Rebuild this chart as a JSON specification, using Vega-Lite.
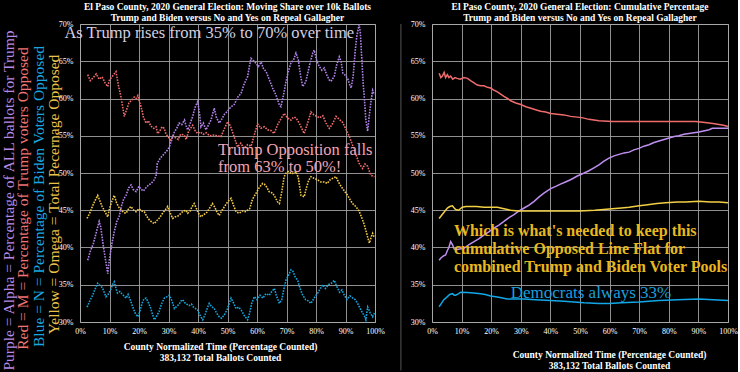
{
"$schema":"https://vega.github.io/schema/vega-lite/v6.json",
"background":"black",
"padding":{"left":0,"right":0,"top":1,"bottom":0},
"config":{
 "view":{"stroke":"#a0a0a0","strokeWidth":1},
 "font":"Liberation Serif",
 "axis":{"labelColor":"white","labelFont":"Liberation Serif","labelFontSize":8,"labelFlush":false,"gridColor":"#a8a8a8","gridOpacity":0.85,"domain":false,"ticks":false,"labelPadding":7,"titleColor":"white","titleFont":"Liberation Serif"},
 "title":{"color":"white","font":"Liberation Serif","fontSize":9.5,"fontWeight":"bold","lineHeight":11,"offset":-2},
 "concat":{"spacing":14}
},
"datasets":{
"moving":[
{"s":"Red","t":0.026,"v":0.632},{"s":"Red","t":0.035,"v":0.624},{"s":"Red","t":0.045,"v":0.628},{"s":"Red","t":0.055,"v":0.633},{"s":"Red","t":0.065,"v":0.626},{"s":"Red","t":0.075,"v":0.629},{"s":"Red","t":0.085,"v":0.621},{"s":"Red","t":0.094,"v":0.616},{"s":"Red","t":0.1,"v":0.625},{"s":"Red","t":0.11,"v":0.63},{"s":"Red","t":0.122,"v":0.636},{"s":"Red","t":0.13,"v":0.618},{"s":"Red","t":0.139,"v":0.602},{"s":"Red","t":0.145,"v":0.588},{"s":"Red","t":0.15,"v":0.576},{"s":"Red","t":0.158,"v":0.585},{"s":"Red","t":0.166,"v":0.594},{"s":"Red","t":0.175,"v":0.598},{"s":"Red","t":0.184,"v":0.602},{"s":"Red","t":0.19,"v":0.6},{"s":"Red","t":0.196,"v":0.604},{"s":"Red","t":0.202,"v":0.595},{"s":"Red","t":0.207,"v":0.589},{"s":"Red","t":0.215,"v":0.575},{"s":"Red","t":0.224,"v":0.567},{"s":"Red","t":0.232,"v":0.57},{"s":"Red","t":0.24,"v":0.563},{"s":"Red","t":0.25,"v":0.56},{"s":"Red","t":0.258,"v":0.562},{"s":"Red","t":0.263,"v":0.553},{"s":"Red","t":0.27,"v":0.556},{"s":"Red","t":0.278,"v":0.562},{"s":"Red","t":0.285,"v":0.56},{"s":"Red","t":0.292,"v":0.552},{"s":"Red","t":0.3,"v":0.548},{"s":"Red","t":0.308,"v":0.544},{"s":"Red","t":0.316,"v":0.55},{"s":"Red","t":0.325,"v":0.547},{"s":"Red","t":0.333,"v":0.545},{"s":"Red","t":0.341,"v":0.552},{"s":"Red","t":0.353,"v":0.551},{"s":"Red","t":0.36,"v":0.545},{"s":"Red","t":0.368,"v":0.556},{"s":"Red","t":0.375,"v":0.56},{"s":"Red","t":0.382,"v":0.564},{"s":"Red","t":0.39,"v":0.557},{"s":"Red","t":0.399,"v":0.553},{"s":"Red","t":0.408,"v":0.555},{"s":"Red","t":0.418,"v":0.552},{"s":"Red","t":0.428,"v":0.554},{"s":"Red","t":0.44,"v":0.55},{"s":"Red","t":0.455,"v":0.551},{"s":"Red","t":0.465,"v":0.55},{"s":"Red","t":0.478,"v":0.549},{"s":"Red","t":0.49,"v":0.56},{"s":"Red","t":0.501,"v":0.569},{"s":"Red","t":0.51,"v":0.563},{"s":"Red","t":0.523,"v":0.548},{"s":"Red","t":0.534,"v":0.535},{"s":"Red","t":0.545,"v":0.54},{"s":"Red","t":0.556,"v":0.533},{"s":"Red","t":0.568,"v":0.538},{"s":"Red","t":0.58,"v":0.536},{"s":"Red","t":0.59,"v":0.55},{"s":"Red","t":0.602,"v":0.566},{"s":"Red","t":0.613,"v":0.56},{"s":"Red","t":0.625,"v":0.562},{"s":"Red","t":0.636,"v":0.558},{"s":"Red","t":0.647,"v":0.557},{"s":"Red","t":0.658,"v":0.553},{"s":"Red","t":0.67,"v":0.565},{"s":"Red","t":0.68,"v":0.572},{"s":"Red","t":0.692,"v":0.58},{"s":"Red","t":0.703,"v":0.574},{"s":"Red","t":0.715,"v":0.571},{"s":"Red","t":0.724,"v":0.575},{"s":"Red","t":0.732,"v":0.574},{"s":"Red","t":0.743,"v":0.567},{"s":"Red","t":0.76,"v":0.553},{"s":"Red","t":0.77,"v":0.565},{"s":"Red","t":0.783,"v":0.582},{"s":"Red","t":0.793,"v":0.578},{"s":"Red","t":0.803,"v":0.576},{"s":"Red","t":0.812,"v":0.574},{"s":"Red","t":0.823,"v":0.577},{"s":"Red","t":0.834,"v":0.567},{"s":"Red","t":0.845,"v":0.56},{"s":"Red","t":0.856,"v":0.566},{"s":"Red","t":0.868,"v":0.576},{"s":"Red","t":0.879,"v":0.572},{"s":"Red","t":0.89,"v":0.568},{"s":"Red","t":0.9,"v":0.56},{"s":"Red","t":0.913,"v":0.549},{"s":"Red","t":0.93,"v":0.531},{"s":"Red","t":0.946,"v":0.513},{"s":"Red","t":0.958,"v":0.506},{"s":"Red","t":0.966,"v":0.512},{"s":"Red","t":0.975,"v":0.509},{"s":"Red","t":0.986,"v":0.497},{"s":"Red","t":0.998,"v":0.495},
{"s":"Purple","t":0.026,"v":0.383},{"s":"Purple","t":0.035,"v":0.395},{"s":"Purple","t":0.045,"v":0.405},{"s":"Purple","t":0.055,"v":0.42},{"s":"Purple","t":0.065,"v":0.435},{"s":"Purple","t":0.07,"v":0.428},{"s":"Purple","t":0.078,"v":0.405},{"s":"Purple","t":0.086,"v":0.385},{"s":"Purple","t":0.094,"v":0.365},{"s":"Purple","t":0.1,"v":0.385},{"s":"Purple","t":0.108,"v":0.405},{"s":"Purple","t":0.116,"v":0.421},{"s":"Purple","t":0.125,"v":0.435},{"s":"Purple","t":0.133,"v":0.442},{"s":"Purple","t":0.14,"v":0.455},{"s":"Purple","t":0.148,"v":0.465},{"s":"Purple","t":0.156,"v":0.47},{"s":"Purple","t":0.165,"v":0.48},{"s":"Purple","t":0.173,"v":0.484},{"s":"Purple","t":0.18,"v":0.478},{"s":"Purple","t":0.19,"v":0.475},{"s":"Purple","t":0.2,"v":0.482},{"s":"Purple","t":0.207,"v":0.478},{"s":"Purple","t":0.215,"v":0.476},{"s":"Purple","t":0.225,"v":0.481},{"s":"Purple","t":0.233,"v":0.484},{"s":"Purple","t":0.241,"v":0.486},{"s":"Purple","t":0.25,"v":0.49},{"s":"Purple","t":0.258,"v":0.496},{"s":"Purple","t":0.262,"v":0.513},{"s":"Purple","t":0.272,"v":0.52},{"s":"Purple","t":0.286,"v":0.526},{"s":"Purple","t":0.295,"v":0.53},{"s":"Purple","t":0.303,"v":0.535},{"s":"Purple","t":0.312,"v":0.546},{"s":"Purple","t":0.32,"v":0.555},{"s":"Purple","t":0.328,"v":0.56},{"s":"Purple","t":0.336,"v":0.567},{"s":"Purple","t":0.345,"v":0.565},{"s":"Purple","t":0.354,"v":0.571},{"s":"Purple","t":0.36,"v":0.563},{"s":"Purple","t":0.365,"v":0.558},{"s":"Purple","t":0.373,"v":0.566},{"s":"Purple","t":0.382,"v":0.576},{"s":"Purple","t":0.39,"v":0.588},{"s":"Purple","t":0.399,"v":0.596},{"s":"Purple","t":0.405,"v":0.58},{"s":"Purple","t":0.41,"v":0.562},{"s":"Purple","t":0.418,"v":0.567},{"s":"Purple","t":0.427,"v":0.558},{"s":"Purple","t":0.436,"v":0.565},{"s":"Purple","t":0.444,"v":0.571},{"s":"Purple","t":0.45,"v":0.58},{"s":"Purple","t":0.455,"v":0.587},{"s":"Purple","t":0.462,"v":0.575},{"s":"Purple","t":0.472,"v":0.567},{"s":"Purple","t":0.48,"v":0.572},{"s":"Purple","t":0.49,"v":0.579},{"s":"Purple","t":0.5,"v":0.583},{"s":"Purple","t":0.51,"v":0.588},{"s":"Purple","t":0.523,"v":0.592},{"s":"Purple","t":0.535,"v":0.602},{"s":"Purple","t":0.546,"v":0.607},{"s":"Purple","t":0.557,"v":0.62},{"s":"Purple","t":0.568,"v":0.629},{"s":"Purple","t":0.575,"v":0.645},{"s":"Purple","t":0.58,"v":0.654},{"s":"Purple","t":0.59,"v":0.65},{"s":"Purple","t":0.597,"v":0.647},{"s":"Purple","t":0.605,"v":0.643},{"s":"Purple","t":0.614,"v":0.649},{"s":"Purple","t":0.622,"v":0.64},{"s":"Purple","t":0.631,"v":0.636},{"s":"Purple","t":0.642,"v":0.625},{"s":"Purple","t":0.653,"v":0.614},{"s":"Purple","t":0.664,"v":0.605},{"s":"Purple","t":0.676,"v":0.591},{"s":"Purple","t":0.681,"v":0.589},{"s":"Purple","t":0.69,"v":0.605},{"s":"Purple","t":0.698,"v":0.622},{"s":"Purple","t":0.706,"v":0.636},{"s":"Purple","t":0.715,"v":0.648},{"s":"Purple","t":0.724,"v":0.652},{"s":"Purple","t":0.732,"v":0.661},{"s":"Purple","t":0.74,"v":0.652},{"s":"Purple","t":0.748,"v":0.63},{"s":"Purple","t":0.755,"v":0.616},{"s":"Purple","t":0.765,"v":0.622},{"s":"Purple","t":0.772,"v":0.634},{"s":"Purple","t":0.78,"v":0.648},{"s":"Purple","t":0.789,"v":0.661},{"s":"Purple","t":0.794,"v":0.665},{"s":"Purple","t":0.803,"v":0.65},{"s":"Purple","t":0.811,"v":0.643},{"s":"Purple","t":0.82,"v":0.638},{"s":"Purple","t":0.828,"v":0.641},{"s":"Purple","t":0.836,"v":0.632},{"s":"Purple","t":0.845,"v":0.625},{"s":"Purple","t":0.851,"v":0.623},{"s":"Purple","t":0.862,"v":0.63},{"s":"Purple","t":0.87,"v":0.645},{"s":"Purple","t":0.879,"v":0.656},{"s":"Purple","t":0.885,"v":0.65},{"s":"Purple","t":0.891,"v":0.634},{"s":"Purple","t":0.9,"v":0.631},{"s":"Purple","t":0.908,"v":0.626},{"s":"Purple","t":0.913,"v":0.62},{"s":"Purple","t":0.919,"v":0.614},{"s":"Purple","t":0.926,"v":0.63},{"s":"Purple","t":0.932,"v":0.66},{"s":"Purple","t":0.938,"v":0.683},{"s":"Purple","t":0.946,"v":0.699},{"s":"Purple","t":0.95,"v":0.69},{"s":"Purple","t":0.955,"v":0.655},{"s":"Purple","t":0.96,"v":0.62},{"s":"Purple","t":0.964,"v":0.6},{"s":"Purple","t":0.969,"v":0.571},{"s":"Purple","t":0.975,"v":0.556},{"s":"Purple","t":0.98,"v":0.575},{"s":"Purple","t":0.986,"v":0.595},{"s":"Purple","t":0.992,"v":0.611},{"s":"Purple","t":0.998,"v":0.605},
{"s":"Yellow","t":0.024,"v":0.439},{"s":"Yellow","t":0.035,"v":0.448},{"s":"Yellow","t":0.045,"v":0.458},{"s":"Yellow","t":0.055,"v":0.466},{"s":"Yellow","t":0.06,"v":0.47},{"s":"Yellow","t":0.068,"v":0.462},{"s":"Yellow","t":0.075,"v":0.455},{"s":"Yellow","t":0.082,"v":0.45},{"s":"Yellow","t":0.094,"v":0.441},{"s":"Yellow","t":0.1,"v":0.452},{"s":"Yellow","t":0.108,"v":0.462},{"s":"Yellow","t":0.116,"v":0.47},{"s":"Yellow","t":0.124,"v":0.46},{"s":"Yellow","t":0.133,"v":0.453},{"s":"Yellow","t":0.14,"v":0.45},{"s":"Yellow","t":0.148,"v":0.447},{"s":"Yellow","t":0.156,"v":0.446},{"s":"Yellow","t":0.165,"v":0.452},{"s":"Yellow","t":0.173,"v":0.455},{"s":"Yellow","t":0.182,"v":0.45},{"s":"Yellow","t":0.19,"v":0.448},{"s":"Yellow","t":0.2,"v":0.452},{"s":"Yellow","t":0.21,"v":0.449},{"s":"Yellow","t":0.218,"v":0.448},{"s":"Yellow","t":0.226,"v":0.442},{"s":"Yellow","t":0.235,"v":0.437},{"s":"Yellow","t":0.244,"v":0.434},{"s":"Yellow","t":0.252,"v":0.432},{"s":"Yellow","t":0.26,"v":0.436},{"s":"Yellow","t":0.27,"v":0.44},{"s":"Yellow","t":0.28,"v":0.446},{"s":"Yellow","t":0.29,"v":0.451},{"s":"Yellow","t":0.297,"v":0.455},{"s":"Yellow","t":0.305,"v":0.447},{"s":"Yellow","t":0.314,"v":0.439},{"s":"Yellow","t":0.322,"v":0.441},{"s":"Yellow","t":0.331,"v":0.442},{"s":"Yellow","t":0.34,"v":0.445},{"s":"Yellow","t":0.35,"v":0.449},{"s":"Yellow","t":0.359,"v":0.45},{"s":"Yellow","t":0.365,"v":0.446},{"s":"Yellow","t":0.373,"v":0.449},{"s":"Yellow","t":0.38,"v":0.455},{"s":"Yellow","t":0.387,"v":0.459},{"s":"Yellow","t":0.395,"v":0.452},{"s":"Yellow","t":0.403,"v":0.445},{"s":"Yellow","t":0.41,"v":0.441},{"s":"Yellow","t":0.418,"v":0.444},{"s":"Yellow","t":0.428,"v":0.446},{"s":"Yellow","t":0.438,"v":0.452},{"s":"Yellow","t":0.449,"v":0.459},{"s":"Yellow","t":0.457,"v":0.454},{"s":"Yellow","t":0.465,"v":0.447},{"s":"Yellow","t":0.472,"v":0.443},{"s":"Yellow","t":0.48,"v":0.449},{"s":"Yellow","t":0.49,"v":0.455},{"s":"Yellow","t":0.5,"v":0.461},{"s":"Yellow","t":0.512,"v":0.466},{"s":"Yellow","t":0.52,"v":0.457},{"s":"Yellow","t":0.529,"v":0.448},{"s":"Yellow","t":0.54,"v":0.446},{"s":"Yellow","t":0.55,"v":0.449},{"s":"Yellow","t":0.56,"v":0.448},{"s":"Yellow","t":0.568,"v":0.45},{"s":"Yellow","t":0.575,"v":0.452},{"s":"Yellow","t":0.585,"v":0.465},{"s":"Yellow","t":0.597,"v":0.473},{"s":"Yellow","t":0.607,"v":0.48},{"s":"Yellow","t":0.619,"v":0.486},{"s":"Yellow","t":0.625,"v":0.485},{"s":"Yellow","t":0.633,"v":0.481},{"s":"Yellow","t":0.641,"v":0.475},{"s":"Yellow","t":0.653,"v":0.473},{"s":"Yellow","t":0.661,"v":0.468},{"s":"Yellow","t":0.67,"v":0.461},{"s":"Yellow","t":0.676,"v":0.459},{"s":"Yellow","t":0.684,"v":0.475},{"s":"Yellow","t":0.692,"v":0.495},{"s":"Yellow","t":0.7,"v":0.501},{"s":"Yellow","t":0.708,"v":0.502},{"s":"Yellow","t":0.716,"v":0.499},{"s":"Yellow","t":0.725,"v":0.5},{"s":"Yellow","t":0.732,"v":0.502},{"s":"Yellow","t":0.74,"v":0.494},{"s":"Yellow","t":0.749,"v":0.47},{"s":"Yellow","t":0.76,"v":0.468},{"s":"Yellow","t":0.766,"v":0.478},{"s":"Yellow","t":0.775,"v":0.49},{"s":"Yellow","t":0.783,"v":0.495},{"s":"Yellow","t":0.793,"v":0.493},{"s":"Yellow","t":0.805,"v":0.491},{"s":"Yellow","t":0.816,"v":0.488},{"s":"Yellow","t":0.828,"v":0.488},{"s":"Yellow","t":0.838,"v":0.486},{"s":"Yellow","t":0.848,"v":0.491},{"s":"Yellow","t":0.857,"v":0.493},{"s":"Yellow","t":0.868,"v":0.495},{"s":"Yellow","t":0.876,"v":0.488},{"s":"Yellow","t":0.885,"v":0.482},{"s":"Yellow","t":0.896,"v":0.476},{"s":"Yellow","t":0.907,"v":0.47},{"s":"Yellow","t":0.916,"v":0.464},{"s":"Yellow","t":0.924,"v":0.459},{"s":"Yellow","t":0.935,"v":0.455},{"s":"Yellow","t":0.946,"v":0.449},{"s":"Yellow","t":0.958,"v":0.437},{"s":"Yellow","t":0.964,"v":0.43},{"s":"Yellow","t":0.969,"v":0.423},{"s":"Yellow","t":0.975,"v":0.414},{"s":"Yellow","t":0.981,"v":0.406},{"s":"Yellow","t":0.988,"v":0.415},{"s":"Yellow","t":0.992,"v":0.419},{"s":"Yellow","t":0.998,"v":0.413},
{"s":"Blue","t":0.024,"v":0.32},{"s":"Blue","t":0.033,"v":0.328},{"s":"Blue","t":0.043,"v":0.336},{"s":"Blue","t":0.052,"v":0.345},{"s":"Blue","t":0.06,"v":0.352},{"s":"Blue","t":0.068,"v":0.349},{"s":"Blue","t":0.076,"v":0.346},{"s":"Blue","t":0.082,"v":0.34},{"s":"Blue","t":0.088,"v":0.334},{"s":"Blue","t":0.095,"v":0.337},{"s":"Blue","t":0.103,"v":0.342},{"s":"Blue","t":0.11,"v":0.35},{"s":"Blue","t":0.116,"v":0.354},{"s":"Blue","t":0.122,"v":0.345},{"s":"Blue","t":0.127,"v":0.339},{"s":"Blue","t":0.135,"v":0.341},{"s":"Blue","t":0.142,"v":0.338},{"s":"Blue","t":0.149,"v":0.335},{"s":"Blue","t":0.156,"v":0.332},{"s":"Blue","t":0.163,"v":0.337},{"s":"Blue","t":0.17,"v":0.33},{"s":"Blue","t":0.179,"v":0.32},{"s":"Blue","t":0.187,"v":0.312},{"s":"Blue","t":0.196,"v":0.307},{"s":"Blue","t":0.203,"v":0.314},{"s":"Blue","t":0.21,"v":0.325},{"s":"Blue","t":0.217,"v":0.331},{"s":"Blue","t":0.224,"v":0.332},{"s":"Blue","t":0.232,"v":0.326},{"s":"Blue","t":0.24,"v":0.318},{"s":"Blue","t":0.246,"v":0.31},{"s":"Blue","t":0.252,"v":0.303},{"s":"Blue","t":0.26,"v":0.308},{"s":"Blue","t":0.268,"v":0.314},{"s":"Blue","t":0.276,"v":0.324},{"s":"Blue","t":0.286,"v":0.332},{"s":"Blue","t":0.295,"v":0.334},{"s":"Blue","t":0.303,"v":0.336},{"s":"Blue","t":0.312,"v":0.328},{"s":"Blue","t":0.32,"v":0.318},{"s":"Blue","t":0.328,"v":0.321},{"s":"Blue","t":0.336,"v":0.324},{"s":"Blue","t":0.342,"v":0.328},{"s":"Blue","t":0.348,"v":0.33},{"s":"Blue","t":0.355,"v":0.326},{"s":"Blue","t":0.362,"v":0.324},{"s":"Blue","t":0.37,"v":0.322},{"s":"Blue","t":0.378,"v":0.324},{"s":"Blue","t":0.385,"v":0.32},{"s":"Blue","t":0.392,"v":0.318},{"s":"Blue","t":0.399,"v":0.316},{"s":"Blue","t":0.408,"v":0.308},{"s":"Blue","t":0.416,"v":0.303},{"s":"Blue","t":0.424,"v":0.31},{"s":"Blue","t":0.431,"v":0.318},{"s":"Blue","t":0.438,"v":0.325},{"s":"Blue","t":0.446,"v":0.321},{"s":"Blue","t":0.455,"v":0.318},{"s":"Blue","t":0.463,"v":0.312},{"s":"Blue","t":0.472,"v":0.307},{"s":"Blue","t":0.48,"v":0.305},{"s":"Blue","t":0.49,"v":0.31},{"s":"Blue","t":0.5,"v":0.318},{"s":"Blue","t":0.512,"v":0.332},{"s":"Blue","t":0.52,"v":0.326},{"s":"Blue","t":0.529,"v":0.318},{"s":"Blue","t":0.538,"v":0.32},{"s":"Blue","t":0.548,"v":0.315},{"s":"Blue","t":0.558,"v":0.308},{"s":"Blue","t":0.568,"v":0.303},{"s":"Blue","t":0.575,"v":0.312},{"s":"Blue","t":0.582,"v":0.325},{"s":"Blue","t":0.591,"v":0.334},{"s":"Blue","t":0.6,"v":0.33},{"s":"Blue","t":0.61,"v":0.336},{"s":"Blue","t":0.62,"v":0.332},{"s":"Blue","t":0.63,"v":0.338},{"s":"Blue","t":0.642,"v":0.336},{"s":"Blue","t":0.65,"v":0.341},{"s":"Blue","t":0.659,"v":0.345},{"s":"Blue","t":0.666,"v":0.335},{"s":"Blue","t":0.676,"v":0.325},{"s":"Blue","t":0.684,"v":0.33},{"s":"Blue","t":0.69,"v":0.342},{"s":"Blue","t":0.698,"v":0.356},{"s":"Blue","t":0.706,"v":0.362},{"s":"Blue","t":0.715,"v":0.37},{"s":"Blue","t":0.722,"v":0.368},{"s":"Blue","t":0.73,"v":0.36},{"s":"Blue","t":0.738,"v":0.356},{"s":"Blue","t":0.746,"v":0.345},{"s":"Blue","t":0.755,"v":0.336},{"s":"Blue","t":0.765,"v":0.33},{"s":"Blue","t":0.775,"v":0.328},{"s":"Blue","t":0.783,"v":0.325},{"s":"Blue","t":0.795,"v":0.333},{"s":"Blue","t":0.806,"v":0.339},{"s":"Blue","t":0.815,"v":0.345},{"s":"Blue","t":0.823,"v":0.35},{"s":"Blue","t":0.832,"v":0.345},{"s":"Blue","t":0.842,"v":0.35},{"s":"Blue","t":0.852,"v":0.352},{"s":"Blue","t":0.862,"v":0.356},{"s":"Blue","t":0.87,"v":0.348},{"s":"Blue","t":0.88,"v":0.34},{"s":"Blue","t":0.888,"v":0.343},{"s":"Blue","t":0.896,"v":0.336},{"s":"Blue","t":0.905,"v":0.33},{"s":"Blue","t":0.915,"v":0.335},{"s":"Blue","t":0.925,"v":0.332},{"s":"Blue","t":0.933,"v":0.33},{"s":"Blue","t":0.941,"v":0.325},{"s":"Blue","t":0.95,"v":0.318},{"s":"Blue","t":0.958,"v":0.312},{"s":"Blue","t":0.964,"v":0.308},{"s":"Blue","t":0.969,"v":0.303},{"s":"Blue","t":0.975,"v":0.32},{"s":"Blue","t":0.984,"v":0.312},{"s":"Blue","t":0.992,"v":0.307},{"s":"Blue","t":0.998,"v":0.312}
],
"cumul":[
{"s":"Red","t":0.024,"v":0.634},{"s":"Red","t":0.03,"v":0.628},{"s":"Red","t":0.035,"v":0.63},{"s":"Red","t":0.041,"v":0.635},{"s":"Red","t":0.046,"v":0.628},{"s":"Red","t":0.052,"v":0.632},{"s":"Red","t":0.057,"v":0.628},{"s":"Red","t":0.063,"v":0.63},{"s":"Red","t":0.07,"v":0.626},{"s":"Red","t":0.078,"v":0.628},{"s":"Red","t":0.085,"v":0.627},{"s":"Red","t":0.095,"v":0.626},{"s":"Red","t":0.108,"v":0.628},{"s":"Red","t":0.12,"v":0.627},{"s":"Red","t":0.13,"v":0.624},{"s":"Red","t":0.142,"v":0.621},{"s":"Red","t":0.153,"v":0.618},{"s":"Red","t":0.165,"v":0.617},{"s":"Red","t":0.176,"v":0.617},{"s":"Red","t":0.187,"v":0.615},{"s":"Red","t":0.198,"v":0.614},{"s":"Red","t":0.21,"v":0.611},{"s":"Red","t":0.221,"v":0.609},{"s":"Red","t":0.232,"v":0.606},{"s":"Red","t":0.243,"v":0.603},{"s":"Red","t":0.255,"v":0.6},{"s":"Red","t":0.266,"v":0.597},{"s":"Red","t":0.283,"v":0.594},{"s":"Red","t":0.3,"v":0.592},{"s":"Red","t":0.317,"v":0.589},{"s":"Red","t":0.334,"v":0.587},{"s":"Red","t":0.35,"v":0.585},{"s":"Red","t":0.367,"v":0.583},{"s":"Red","t":0.384,"v":0.582},{"s":"Red","t":0.401,"v":0.58},{"s":"Red","t":0.423,"v":0.579},{"s":"Red","t":0.446,"v":0.578},{"s":"Red","t":0.468,"v":0.576},{"s":"Red","t":0.491,"v":0.575},{"s":"Red","t":0.51,"v":0.574},{"s":"Red","t":0.53,"v":0.572},{"s":"Red","t":0.564,"v":0.57},{"s":"Red","t":0.609,"v":0.569},{"s":"Red","t":0.65,"v":0.569},{"s":"Red","t":0.699,"v":0.569},{"s":"Red","t":0.75,"v":0.569},{"s":"Red","t":0.789,"v":0.569},{"s":"Red","t":0.84,"v":0.569},{"s":"Red","t":0.891,"v":0.569},{"s":"Red","t":0.915,"v":0.568},{"s":"Red","t":0.936,"v":0.567},{"s":"Red","t":0.955,"v":0.566},{"s":"Red","t":0.97,"v":0.565},{"s":"Red","t":0.985,"v":0.564},{"s":"Red","t":1.0,"v":0.5625},
{"s":"Purple","t":0.024,"v":0.383},{"s":"Purple","t":0.03,"v":0.386},{"s":"Purple","t":0.04,"v":0.389},{"s":"Purple","t":0.046,"v":0.39},{"s":"Purple","t":0.052,"v":0.396},{"s":"Purple","t":0.057,"v":0.4},{"s":"Purple","t":0.063,"v":0.408},{"s":"Purple","t":0.069,"v":0.404},{"s":"Purple","t":0.075,"v":0.398},{"s":"Purple","t":0.08,"v":0.397},{"s":"Purple","t":0.094,"v":0.398},{"s":"Purple","t":0.108,"v":0.399},{"s":"Purple","t":0.125,"v":0.404},{"s":"Purple","t":0.142,"v":0.408},{"s":"Purple","t":0.159,"v":0.412},{"s":"Purple","t":0.176,"v":0.417},{"s":"Purple","t":0.192,"v":0.421},{"s":"Purple","t":0.209,"v":0.426},{"s":"Purple","t":0.226,"v":0.43},{"s":"Purple","t":0.243,"v":0.435},{"s":"Purple","t":0.26,"v":0.44},{"s":"Purple","t":0.277,"v":0.444},{"s":"Purple","t":0.294,"v":0.449},{"s":"Purple","t":0.311,"v":0.453},{"s":"Purple","t":0.328,"v":0.457},{"s":"Purple","t":0.345,"v":0.462},{"s":"Purple","t":0.362,"v":0.468},{"s":"Purple","t":0.378,"v":0.473},{"s":"Purple","t":0.401,"v":0.479},{"s":"Purple","t":0.418,"v":0.482},{"s":"Purple","t":0.434,"v":0.485},{"s":"Purple","t":0.451,"v":0.488},{"s":"Purple","t":0.468,"v":0.491},{"s":"Purple","t":0.491,"v":0.496},{"s":"Purple","t":0.514,"v":0.5},{"s":"Purple","t":0.53,"v":0.503},{"s":"Purple","t":0.547,"v":0.507},{"s":"Purple","t":0.564,"v":0.511},{"s":"Purple","t":0.581,"v":0.516},{"s":"Purple","t":0.598,"v":0.52},{"s":"Purple","t":0.615,"v":0.523},{"s":"Purple","t":0.632,"v":0.525},{"s":"Purple","t":0.649,"v":0.527},{"s":"Purple","t":0.666,"v":0.528},{"s":"Purple","t":0.682,"v":0.531},{"s":"Purple","t":0.699,"v":0.533},{"s":"Purple","t":0.716,"v":0.536},{"s":"Purple","t":0.733,"v":0.538},{"s":"Purple","t":0.75,"v":0.541},{"s":"Purple","t":0.767,"v":0.543},{"s":"Purple","t":0.784,"v":0.545},{"s":"Purple","t":0.801,"v":0.547},{"s":"Purple","t":0.818,"v":0.549},{"s":"Purple","t":0.834,"v":0.55},{"s":"Purple","t":0.851,"v":0.552},{"s":"Purple","t":0.868,"v":0.553},{"s":"Purple","t":0.885,"v":0.554},{"s":"Purple","t":0.902,"v":0.555},{"s":"Purple","t":0.925,"v":0.557},{"s":"Purple","t":0.936,"v":0.558},{"s":"Purple","t":0.947,"v":0.56},{"s":"Purple","t":0.964,"v":0.56},{"s":"Purple","t":0.981,"v":0.56},{"s":"Purple","t":1.0,"v":0.56},
{"s":"Yellow","t":0.024,"v":0.439},{"s":"Yellow","t":0.03,"v":0.442},{"s":"Yellow","t":0.04,"v":0.447},{"s":"Yellow","t":0.052,"v":0.453},{"s":"Yellow","t":0.06,"v":0.455},{"s":"Yellow","t":0.069,"v":0.456},{"s":"Yellow","t":0.075,"v":0.453},{"s":"Yellow","t":0.08,"v":0.451},{"s":"Yellow","t":0.09,"v":0.45},{"s":"Yellow","t":0.102,"v":0.454},{"s":"Yellow","t":0.115,"v":0.455},{"s":"Yellow","t":0.131,"v":0.455},{"s":"Yellow","t":0.15,"v":0.455},{"s":"Yellow","t":0.176,"v":0.454},{"s":"Yellow","t":0.2,"v":0.454},{"s":"Yellow","t":0.221,"v":0.454},{"s":"Yellow","t":0.243,"v":0.452},{"s":"Yellow","t":0.266,"v":0.45},{"s":"Yellow","t":0.29,"v":0.449},{"s":"Yellow","t":0.311,"v":0.449},{"s":"Yellow","t":0.35,"v":0.449},{"s":"Yellow","t":0.4,"v":0.449},{"s":"Yellow","t":0.45,"v":0.449},{"s":"Yellow","t":0.497,"v":0.449},{"s":"Yellow","t":0.55,"v":0.45},{"s":"Yellow","t":0.609,"v":0.452},{"s":"Yellow","t":0.64,"v":0.453},{"s":"Yellow","t":0.666,"v":0.454},{"s":"Yellow","t":0.7,"v":0.456},{"s":"Yellow","t":0.722,"v":0.457},{"s":"Yellow","t":0.76,"v":0.459},{"s":"Yellow","t":0.789,"v":0.46},{"s":"Yellow","t":0.83,"v":0.461},{"s":"Yellow","t":0.857,"v":0.461},{"s":"Yellow","t":0.902,"v":0.462},{"s":"Yellow","t":0.94,"v":0.461},{"s":"Yellow","t":0.97,"v":0.461},{"s":"Yellow","t":1.0,"v":0.46},
{"s":"Blue","t":0.024,"v":0.3205},{"s":"Blue","t":0.03,"v":0.324},{"s":"Blue","t":0.04,"v":0.33},{"s":"Blue","t":0.052,"v":0.334},{"s":"Blue","t":0.06,"v":0.337},{"s":"Blue","t":0.069,"v":0.338},{"s":"Blue","t":0.075,"v":0.336},{"s":"Blue","t":0.08,"v":0.336},{"s":"Blue","t":0.09,"v":0.338},{"s":"Blue","t":0.097,"v":0.34},{"s":"Blue","t":0.12,"v":0.3395},{"s":"Blue","t":0.14,"v":0.339},{"s":"Blue","t":0.164,"v":0.338},{"s":"Blue","t":0.18,"v":0.337},{"s":"Blue","t":0.198,"v":0.335},{"s":"Blue","t":0.215,"v":0.334},{"s":"Blue","t":0.23,"v":0.333},{"s":"Blue","t":0.254,"v":0.331},{"s":"Blue","t":0.28,"v":0.331},{"s":"Blue","t":0.311,"v":0.331},{"s":"Blue","t":0.35,"v":0.33},{"s":"Blue","t":0.4,"v":0.329},{"s":"Blue","t":0.446,"v":0.328},{"s":"Blue","t":0.48,"v":0.327},{"s":"Blue","t":0.514,"v":0.326},{"s":"Blue","t":0.564,"v":0.325},{"s":"Blue","t":0.6,"v":0.325},{"s":"Blue","t":0.64,"v":0.326},{"s":"Blue","t":0.699,"v":0.327},{"s":"Blue","t":0.767,"v":0.329},{"s":"Blue","t":0.83,"v":0.33},{"s":"Blue","t":0.902,"v":0.331},{"s":"Blue","t":0.95,"v":0.33},{"s":"Blue","t":1.0,"v":0.329}
]
},
"hconcat":[
{
 "width":295,"height":298,
 "title":{"text":["El Paso County, 2020 General Election: Moving Share over 10k Ballots","Trump and Biden versus No and Yes on Repeal Gallagher"]},
 "data":{"name":"moving"},
 "resolve":{"axis":{"x":"independent","y":"independent"}},
 "layer":[
  {"transform":[{"filter":"datum.s === 'Yellow'"}],
   "mark":{"type":"line","color":"#f2c944","strokeWidth":1.6,"strokeDash":[1.6,1.2]},
   "encoding":{
    "x":{"field":"t","type":"quantitative","scale":{"domain":[0,1],"nice":false},"axis":{"values":[0,0.1,0.2,0.3,0.4,0.5,0.6,0.7,0.8,0.9,1],"format":".0%","grid":true,"labelPadding":5,"title":["County Normalized Time (Percentage Counted)","383,132 Total Ballots Counted"],"titleFontSize":9.5,"titleFontWeight":"bold","titleLineHeight":11,"titlePadding":6,"titleX":140}},
    "y":{"field":"v","type":"quantitative","scale":{"domain":[0.3,0.7],"nice":false,"zero":false},"axis":{"orient":"left","values":[0.3,0.35,0.4,0.45,0.5,0.55,0.6,0.65,0.7],"format":".0%","grid":true,"title":"Yellow = Omega = Total Pecernage Opposed","titleColor":"#eac24a","titleFontSize":15.5,"titleFontWeight":"normal","titleX":-19,"titleY":170}}}},
  {"transform":[{"filter":"datum.s === 'Blue'"}],
   "mark":{"type":"line","color":"#15a5de","strokeWidth":1.6,"strokeDash":[1.6,1.2]},
   "encoding":{
    "x":{"field":"t","type":"quantitative","scale":{"domain":[0,1],"nice":false},"axis":null},
    "y":{"field":"v","type":"quantitative","scale":{"domain":[0.3,0.7],"nice":false,"zero":false},"axis":{"orient":"left","labels":false,"grid":false,"title":"Blue = N = Percentage of Biden Voters Opposed","titleColor":"#1aa7e0","titleFontSize":15.5,"titleFontWeight":"normal","titleX":-34,"titleY":172}}}},
  {"transform":[{"filter":"datum.s === 'Red'"}],
   "mark":{"type":"line","color":"#f06b6b","strokeWidth":1.6,"strokeDash":[1.6,1.2]},
   "encoding":{
    "x":{"field":"t","type":"quantitative","scale":{"domain":[0,1],"nice":false},"axis":null},
    "y":{"field":"v","type":"quantitative","scale":{"domain":[0.3,0.7],"nice":false,"zero":false},"axis":{"orient":"left","labels":false,"grid":false,"title":"Red = M = Percentage of Trump voters Opposed","titleColor":"#f07474","titleFontSize":15.5,"titleFontWeight":"normal","titleX":-50,"titleY":174}}}},
  {"transform":[{"filter":"datum.s === 'Purple'"}],
   "mark":{"type":"line","color":"#b283ec","strokeWidth":1.6,"strokeDash":[1.6,1.2]},
   "encoding":{
    "x":{"field":"t","type":"quantitative","scale":{"domain":[0,1],"nice":false},"axis":null},
    "y":{"field":"v","type":"quantitative","scale":{"domain":[0.3,0.7],"nice":false,"zero":false},"axis":{"orient":"left","labels":false,"grid":false,"title":"Purple = Alpha = Percentage of ALL ballots for Trump","titleColor":"#b58ae8","titleFontSize":15.5,"titleFontWeight":"normal","titleX":-64,"titleY":176}}}},
  {"data":{"values":[{}]},
   "mark":{"type":"text","text":"As Trump rises from 35% to 70% over time","font":"Liberation Serif","fontSize":16.5,"color":"#d2d0e2","align":"center","baseline":"middle"},
   "encoding":{"x":{"datum":0.438,"type":"quantitative","scale":{"domain":[0,1],"nice":false},"axis":null},"y":{"datum":0.688,"type":"quantitative","scale":{"domain":[0.3,0.7],"nice":false,"zero":false},"axis":null}}},
  {"data":{"values":[{}]},
   "mark":{"type":"text","text":["Trump Opposition falls","from 63% to 50%!"],"font":"Liberation Serif","fontSize":16.5,"lineHeight":17,"color":"#f1a5b4","align":"left","baseline":"middle"},
   "encoding":{"x":{"datum":0.468,"type":"quantitative","scale":{"domain":[0,1],"nice":false},"axis":null},"y":{"datum":0.5309,"type":"quantitative","scale":{"domain":[0.3,0.7],"nice":false,"zero":false},"axis":null}}}
 ]
},
{
 "width":296,"height":298,
 "title":{"text":["El Paso County, 2020 General Election: Cumulative Percentage","Trump and Biden versus No and Yes on Repeal Gallagher"]},
 "data":{"name":"cumul"},
 "resolve":{"axis":{"x":"independent","y":"independent"}},
 "layer":[
  {"mark":{"type":"line","strokeWidth":1.5},
   "encoding":{
    "x":{"field":"t","type":"quantitative","scale":{"domain":[0,1],"nice":false},"axis":{"values":[0,0.1,0.2,0.3,0.4,0.5,0.6,0.7,0.8,0.9,1],"format":".0%","grid":true,"labelPadding":5,"title":["County Normalized Time (Percentage Counted)","383,132 Total Ballots Counted"],"titleFontSize":9.5,"titleFontWeight":"bold","titleLineHeight":11,"titlePadding":14,"titleX":177}},
    "y":{"field":"v","type":"quantitative","scale":{"domain":[0.3,0.7],"nice":false,"zero":false},"axis":{"values":[0.3,0.35,0.4,0.45,0.5,0.55,0.6,0.65,0.7],"format":".0%","grid":true,"title":null}},
    "color":{"field":"s","type":"nominal","scale":{"domain":["Red","Purple","Yellow","Blue"],"range":["#f06b6b","#be8ff0","#f2cf45","#12a7e6"]},"legend":null}}},
  {"data":{"values":[{}]},
   "mark":{"type":"rule","color":"#555555","strokeWidth":1},
   "encoding":{"x":{"datum":-0.105,"type":"quantitative","scale":{"domain":[0,1],"nice":false},"axis":null},"y":{"datum":0.7,"type":"quantitative","scale":{"domain":[0.3,0.7],"nice":false,"zero":false},"axis":null},"y2":{"datum":0.235}}},
  {"data":{"values":[{}]},
   "mark":{"type":"text","text":["Which is what's needed to keep this","cumulative Opposed Line Flat for","combined Trump and Biden Voter Pools"],"font":"Liberation Serif","fontWeight":"bold","fontSize":16,"lineHeight":18,"color":"#e8b81e","align":"left","baseline":"middle"},
   "encoding":{"x":{"datum":0.074,"type":"quantitative","scale":{"domain":[0,1],"nice":false},"axis":null},"y":{"datum":0.4227,"type":"quantitative","scale":{"domain":[0.3,0.7],"nice":false,"zero":false},"axis":null}}},
  {"data":{"values":[{}]},
   "mark":{"type":"text","text":"Democrats always 33%","font":"Liberation Serif","fontSize":17,"color":"#1a9fdc","align":"center","baseline":"middle"},
   "encoding":{"x":{"datum":0.537,"type":"quantitative","scale":{"domain":[0,1],"nice":false},"axis":null},"y":{"datum":0.3393,"type":"quantitative","scale":{"domain":[0.3,0.7],"nice":false,"zero":false},"axis":null}}}
 ]
}
]
}
